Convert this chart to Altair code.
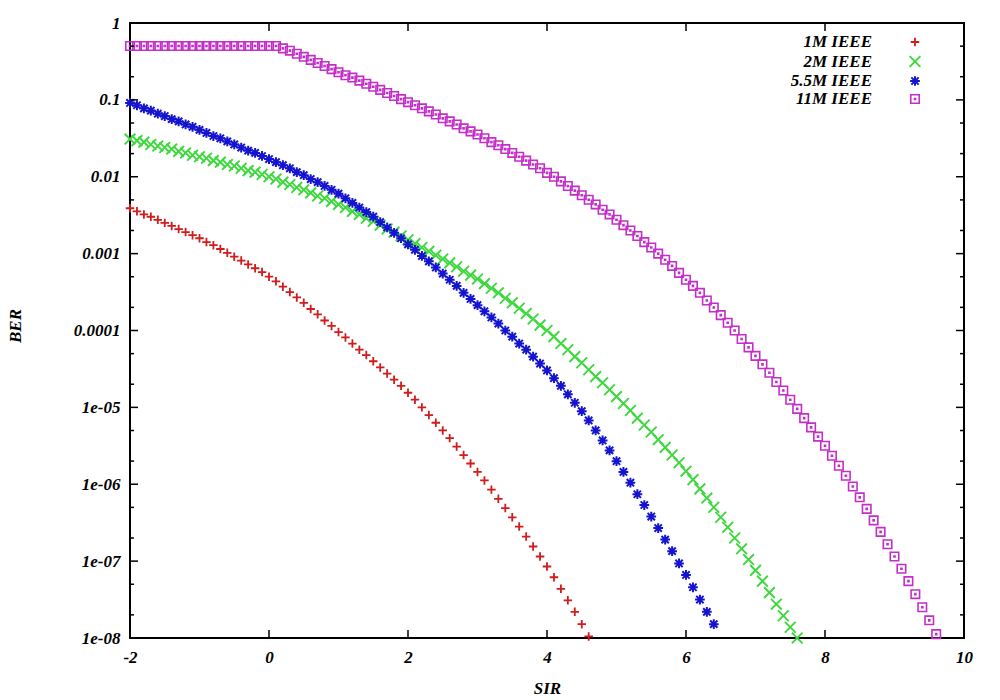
import altair as alt
import pandas as pd

# ---------------- data (log10 of BER, SIR grid from -2 in steps of 0.1) ----------------
SERIES = ["1M IEEE", "2M IEEE", "5.5M IEEE", "11M IEEE"]
COLORS = ["#d01c1c", "#3cd83c", "#1414d0", "#c42ec8"]
SIR_START = -2.0
SIR_STEP = 0.1

LOG_BER_1M = [
    -2.41, -2.45, -2.49, -2.52, -2.56, -2.60, -2.64, -2.68, -2.72, -2.76,
    -2.80, -2.85, -2.89, -2.94, -2.99, -3.04, -3.09, -3.14, -3.19, -3.24,
    -3.30, -3.36, -3.43, -3.50, -3.57, -3.64, -3.72, -3.79, -3.87, -3.94,
    -4.02, -4.09, -4.17, -4.25, -4.32, -4.40, -4.48, -4.56, -4.64, -4.72,
    -4.81, -4.90, -5.00, -5.10, -5.20, -5.30, -5.40, -5.51, -5.62, -5.73,
    -5.84, -5.95, -6.07, -6.19, -6.31, -6.43, -6.55, -6.68, -6.81, -6.94,
    -7.07, -7.21, -7.36, -7.51, -7.66, -7.82, -7.98,
]

LOG_BER_2M = [
    -1.51, -1.53, -1.55, -1.58, -1.60, -1.62, -1.64, -1.67, -1.69, -1.72,
    -1.74, -1.76, -1.79, -1.81, -1.84, -1.86, -1.89, -1.92, -1.94, -1.97,
    -2.00, -2.03, -2.07, -2.10, -2.14, -2.17, -2.21, -2.25, -2.28, -2.32,
    -2.36, -2.40, -2.45, -2.49, -2.54, -2.58, -2.63, -2.68, -2.72, -2.77,
    -2.82, -2.87, -2.92, -2.97, -3.02, -3.07, -3.12, -3.17, -3.23, -3.28,
    -3.33, -3.39, -3.45, -3.51, -3.58, -3.64, -3.71, -3.78, -3.85, -3.93,
    -4.00, -4.08, -4.17, -4.25, -4.34, -4.42, -4.51, -4.60, -4.68, -4.77,
    -4.86, -4.95, -5.04, -5.14, -5.23, -5.32, -5.42, -5.52, -5.62, -5.72,
    -5.83, -5.94, -6.06, -6.18, -6.30, -6.43, -6.56, -6.70, -6.84, -6.98,
    -7.12, -7.26, -7.41, -7.56, -7.71, -7.86, -8.00,
]

LOG_BER_55M = [
    -1.04, -1.07, -1.11, -1.14, -1.18, -1.21, -1.25, -1.28, -1.32, -1.35,
    -1.39, -1.43, -1.47, -1.50, -1.54, -1.58, -1.62, -1.66, -1.69, -1.73,
    -1.77, -1.81, -1.85, -1.89, -1.94, -1.98, -2.03, -2.07, -2.12, -2.17,
    -2.22, -2.28, -2.34, -2.40, -2.46, -2.52, -2.59, -2.66, -2.73, -2.80,
    -2.88, -2.95, -3.03, -3.10, -3.18, -3.26, -3.34, -3.42, -3.51, -3.59,
    -3.67, -3.75, -3.83, -3.91, -4.00, -4.08, -4.17, -4.25, -4.34, -4.43,
    -4.52, -4.62, -4.72, -4.83, -4.94, -5.05, -5.17, -5.30, -5.43, -5.56,
    -5.70, -5.84, -5.98, -6.13, -6.27, -6.42, -6.57, -6.72, -6.87, -7.03,
    -7.18, -7.34, -7.50, -7.66, -7.82,
]

LOG_BER_11M = [
    -0.30, -0.30, -0.30, -0.30, -0.30, -0.30, -0.30, -0.30, -0.30, -0.30,
    -0.30, -0.30, -0.30, -0.30, -0.30, -0.30, -0.30, -0.30, -0.30, -0.30,
    -0.30, -0.30, -0.33, -0.36, -0.40, -0.44, -0.48, -0.52, -0.56, -0.60,
    -0.64, -0.68, -0.71, -0.75, -0.79, -0.83, -0.87, -0.91, -0.95, -0.99,
    -1.03, -1.07, -1.11, -1.15, -1.19, -1.24, -1.28, -1.32, -1.37, -1.41,
    -1.45, -1.50, -1.55, -1.59, -1.64, -1.69, -1.74, -1.79, -1.84, -1.89,
    -1.95, -2.00, -2.06, -2.12, -2.18, -2.24, -2.30, -2.36, -2.43, -2.49,
    -2.56, -2.63, -2.70, -2.77, -2.85, -2.92, -3.00, -3.08, -3.16, -3.25,
    -3.34, -3.42, -3.51, -3.61, -3.70, -3.80, -3.90, -4.00, -4.11, -4.22,
    -4.33, -4.44, -4.55, -4.67, -4.78, -4.90, -5.02, -5.14, -5.26, -5.38,
    -5.50, -5.63, -5.76, -5.89, -6.03, -6.17, -6.32, -6.47, -6.62, -6.78,
    -6.94, -7.10, -7.26, -7.43, -7.60, -7.77, -7.95,
]

X_TICKS = [-2, 0, 2, 4, 6, 8, 10]
X_TICK_LABELS = ["-2", "0", "2", "4", "6", "8", "10"]
Y_TICKS = [1, 0.1, 0.01, 0.001, 0.0001, 1e-05, 1e-06, 1e-07, 1e-08]
Y_TICK_LABELS = ["1", "0.1", "0.01", "0.001", "0.0001", "1e-05", "1e-06", "1e-07", "1e-08"]
Y_MINOR_TICKS = [m * 10.0 ** (-k) for k in range(1, 9) for m in (5, 2)]

# ---------------- styling ----------------
W, H = 834, 615
FONT = "Liberation Serif"
SHAPES = [
    "M-1,0H1M0,-1V1",                                            # +
    "M-1,-1L1,1M-1,1L1,-1",                                      # x
    "M-1,0H1M0,-1V1M-0.75,-0.75L0.75,0.75M-0.75,0.75L0.75,-0.75",  # *
    "M-1,-1H1V1H-1ZM-0.12,-0.12H0.12V0.12H-0.12Z",               # square with dot
]
SIZES = [72, 115, 95, 72]
WIDTHS = [1.8, 1.9, 2.0, 1.6]

series_values = [LOG_BER_1M, LOG_BER_2M, LOG_BER_55M, LOG_BER_11M]
rows = []
for name, vals in zip(SERIES, series_values):
    for i, v in enumerate(vals):
        rows.append({"series": name, "SIR": round(SIR_START + SIR_STEP * i, 1), "BER": 10.0 ** v})
df = pd.DataFrame(rows)

label_style = dict(labelFont=FONT, labelFontSize=17, labelFontStyle="italic",
                   labelFontWeight="bold", labelColor="black",
                   titleFont=FONT, titleFontSize=17, titleFontStyle="italic",
                   titleFontWeight="bold", titleColor="black")

x_axis = alt.Axis(values=X_TICKS, ticks=False, tickSize=0, domain=False, grid=False,
                  labelFlush=False, labelOverlap=False, labelPadding=11,
                  labelExpr="%s[round((datum.value + 2) / 2)]" % str(X_TICK_LABELS),
                  titleX=W / 2, titleY=50, titleAlign="center", titleBaseline="middle",
                  **label_style)
y_axis = alt.Axis(values=Y_TICKS, ticks=False, tickSize=0, domain=False, grid=False,
                  labelFlush=False, labelOverlap=False, labelPadding=10,
                  labelExpr="%s[round(-log(datum.value) / LN10)]" % str(Y_TICK_LABELS),
                  titleX=-115, titleY=H / 2 - 5, titleAngle=-90, titleAlign="center",
                  titleBaseline="middle", **label_style)

x_enc = alt.X("SIR:Q", title="SIR", axis=x_axis,
              scale=alt.Scale(domain=[-2, 10], nice=False, zero=False))
y_enc = alt.Y("BER:Q", title="BER", axis=y_axis,
              scale=alt.Scale(type="log", domain=[1e-8, 1], nice=False))

layers = []
for name, color, shape, size, sw in zip(SERIES, COLORS, SHAPES, SIZES, WIDTHS):
    layers.append(
        alt.Chart(df).transform_filter(alt.datum.series == name)
        .mark_point(shape=shape, size=size, color=color, filled=False,
                    strokeWidth=sw, opacity=1)
        .encode(x=x_enc, y=y_enc)
    )

# inward ticks (gnuplot style) on all four sides
xt = pd.DataFrame({"SIR": X_TICKS})
layers.append(alt.Chart(xt).mark_rule(color="black", strokeWidth=1.5)
              .encode(x=x_enc, y=alt.value(H), y2=alt.value(H - 8)))
layers.append(alt.Chart(xt).mark_rule(color="black", strokeWidth=1.5)
              .encode(x=x_enc, y=alt.value(0), y2=alt.value(8)))
yt = pd.DataFrame({"BER": Y_TICKS})
layers.append(alt.Chart(yt).mark_rule(color="black", strokeWidth=1.5)
              .encode(y=y_enc, x=alt.value(0), x2=alt.value(8)))
layers.append(alt.Chart(yt).mark_rule(color="black", strokeWidth=1.5)
              .encode(y=y_enc, x=alt.value(W), x2=alt.value(W - 8)))
ym = pd.DataFrame({"BER": Y_MINOR_TICKS})
layers.append(alt.Chart(ym).mark_rule(color="black", strokeWidth=1.5)
              .encode(y=y_enc, x=alt.value(0), x2=alt.value(4)))
layers.append(alt.Chart(ym).mark_rule(color="black", strokeWidth=1.5)
              .encode(y=y_enc, x=alt.value(W), x2=alt.value(W - 4)))

# legend (labels left, symbols right, as in gnuplot)
LEG_Y = [19, 38.5, 58, 76]
for name, color, shape, size, sw, ly in zip(SERIES, COLORS, SHAPES, SIZES, WIDTHS, LEG_Y):
    ld = pd.DataFrame({"label": [name]})
    layers.append(alt.Chart(ld).mark_text(align="right", baseline="middle", font=FONT,
                                          fontSize=17, fontStyle="italic", fontWeight="bold",
                                          color="black")
                  .encode(text="label:N", x=alt.value(742), y=alt.value(ly)))
    layers.append(alt.Chart(ld).mark_point(shape=shape, size=size, color=color, filled=False,
                                           strokeWidth=sw, opacity=1)
                  .encode(x=alt.value(785), y=alt.value(ly)))

chart = (
    alt.layer(*layers)
    .properties(width=W, height=H,
                autosize=alt.AutoSizeParams(type="none"),
                padding={"left": 130, "top": 23, "right": 36, "bottom": 62},
                background="white")
    .configure_view(stroke="black", strokeWidth=2)
)

chart.save("out.html", embed_options={"renderer": "svg", "actions": False})
